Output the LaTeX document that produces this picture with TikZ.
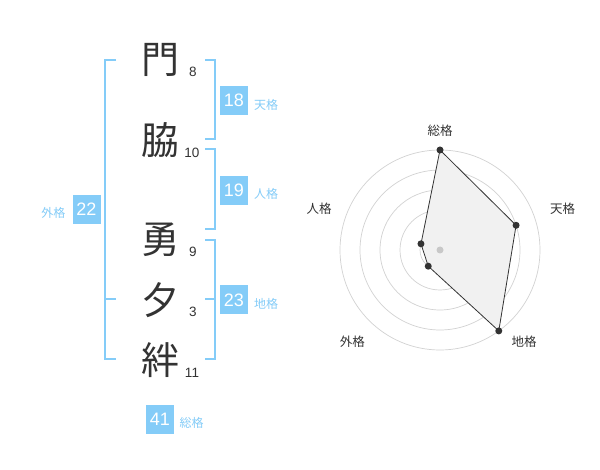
\documentclass[tikz,border=0pt]{standalone}
\usepackage{fontspec}
\setmainfont{Liberation Sans}
\newfontfamily\jp{Noto Sans CJK JP}
\definecolor{kblue}{HTML}{84CCF8}
\definecolor{dgrey}{HTML}{333333}
\definecolor{ringc}{HTML}{D2D2D2}
\definecolor{polyfill}{HTML}{F1F1F1}
\definecolor{cdot}{HTML}{C8C8C8}
\begin{document}
\begin{tikzpicture}[x=1pt,y=-1pt,
  kanji/.style={font=\jp\fontsize{38}{38}\selectfont, text=dgrey, inner sep=0},
  strokes/.style={font=\fontsize{13.5}{13.5}\selectfont, text=dgrey, inner sep=0},
  numbox/.style={fill=kblue, text=white, font=\fontsize{18}{18}\selectfont, minimum width=28, minimum height=29, inner sep=0},
  note/.style={font=\jp\fontsize{12}{12}\selectfont, text=kblue, inner sep=0},
  brk/.style={draw=kblue, line width=2},
  ring/.style={draw=ringc, line width=0.7},
  poly/.style={draw=dgrey, fill=polyfill, line width=0.8},
  dot/.style={circle, fill=dgrey, minimum size=7, inner sep=0},
  cdotst/.style={circle, fill=cdot, minimum size=7, inner sep=0},
  rlabel/.style={font=\jp\fontsize{12.5}{12.5}\selectfont, text=dgrey, inner sep=0}]
\useasboundingbox (0,0) rectangle (600,470);
\fill[white] (0,0) rectangle (600,470);
% characters
\node[kanji] (k1) at (160,60) {門};
\node[kanji] (k2) at (160,140) {脇};
\node[kanji] (k3) at (160,240) {勇};
\node[kanji] (k4) at (160,300) {夕};
\node[kanji] (k5) at (160,360) {絆};
\node[strokes] (s1) at (193,72) {8};
\node[strokes] (s2) at (192,153) {10};
\node[strokes] (s3) at (193,252) {9};
\node[strokes] (s4) at (193,312) {3};
\node[strokes] (s5) at (192,373) {11};
% brackets
\draw[brk] (205,60) -- (215,60) -- (215,139) -- (205,139);
\draw[brk] (205,149) -- (215,149) -- (215,229) -- (205,229);
\draw[brk] (205,240) -- (215,240) -- (215,359) -- (205,359);
\draw[brk] (205,299) -- (215,299);
\draw[brk] (116,60) -- (105,60) -- (105,359) -- (116,359);
\draw[brk] (105,299) -- (116,299);
% boxes
\node[numbox] (b1) at (234,100.5) {18};
\node[note] (n1) at (266,104.5) {天格};
\node[numbox] (b2) at (234,190.5) {19};
\node[note] (n2) at (266,194) {人格};
\node[numbox] (b3) at (234,300) {23};
\node[note] (n3) at (266,304) {地格};
\node[numbox] (b4) at (86.5,209.5) {22};
\node[note] (n4) at (53.5,213) {外格};
\node[numbox] (b5) at (160,419.5) {41};
\node[note] (n5) at (191.5,423) {総格};
% radar
\begin{scope}[x=1pt,y=1pt,shift={(440pt,-250pt)}]
  \foreach \r in {20,40,60,80,100} \draw[ring] (0,0) circle[radius=\r];
  \coordinate (p1) at (90:100);
  \coordinate (p2) at (18:80);
  \coordinate (p3) at (-54:100);
  \coordinate (p4) at (-126:20);
  \coordinate (p5) at (162:20);
  \draw[poly] (p1) -- (p2) -- (p3) -- (p4) -- (p5) -- cycle;
  \node[cdotst] (c0) at (0,0) {};
  \node[dot] (d1) at (p1) {};
  \node[dot] (d2) at (p2) {};
  \node[dot] (d3) at (p3) {};
  \node[dot] (d4) at (p4) {};
  \node[dot] (d5) at (p5) {};
  \node[rlabel] (r1) at (0,119.3) {総格};
  \node[rlabel] (r2) at (122.7,41.3) {天格};
  \node[rlabel] (r3) at (-121,41.3) {人格};
  \node[rlabel] (r4) at (-87.7,-91.7) {外格};
  \node[rlabel] (r5) at (84,-91.7) {地格};
\end{scope}
\end{tikzpicture}
\end{document}
